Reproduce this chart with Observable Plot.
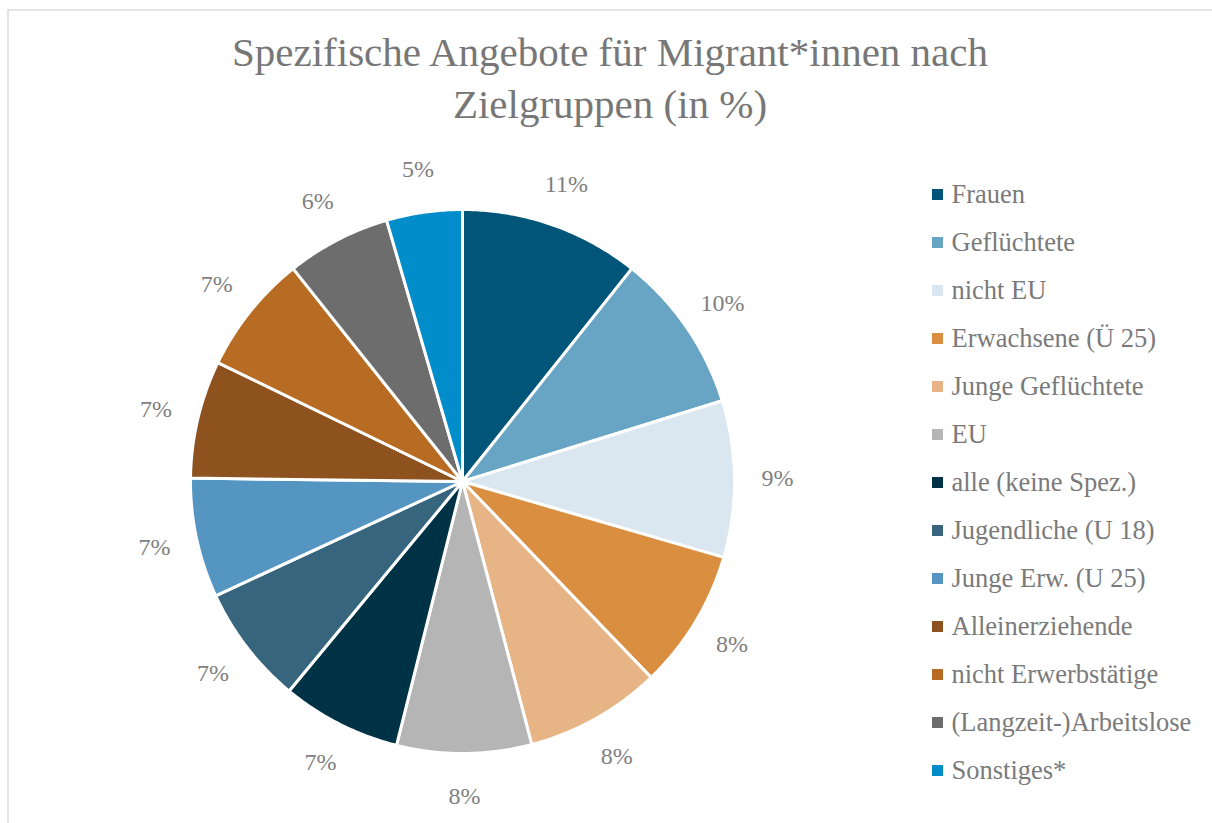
<!DOCTYPE html>
<html><head><meta charset="utf-8">
<script src="https://cdn.jsdelivr.net/npm/d3@7"></script>
<script src="https://cdn.jsdelivr.net/npm/@observablehq/plot@0.6"></script>
<style>
body{margin:0;background:#fff;font-family:"Liberation Serif",serif;}
#wrap{position:relative;width:1212px;height:823px;overflow:hidden;background:#fff}
#frame{position:absolute;left:7px;top:9px;width:1240px;height:840px;border:2px solid #e4e4e4;box-sizing:border-box}
#title{position:absolute;left:0;top:26px;width:1220px;text-align:center;font-size:41px;line-height:52px;color:#777777}
#pie{position:absolute;left:120.5px;top:140px}
#legend{position:absolute;left:920px;top:160px}
#legend svg, #pie svg{max-width:none}
</style></head><body>
<div id="wrap"><div id="frame"></div>
<div id="title">Spezifische Angebote für Migrant*innen nach<br>Zielgruppen (in %)</div>
<div id="pie"></div><div id="legend"></div></div>
<script>
const categories = ["Frauen","Geflüchtete","nicht EU","Erwachsene (Ü 25)","Junge Geflüchtete","EU","alle (keine Spez.)","Jugendliche (U 18)","Junge Erw. (U 25)","Alleinerziehende","nicht Erwerbstätige","(Langzeit-)Arbeitslose","Sonstiges*"];
const values = [10.7, 9.5, 9.3, 8.3, 8.1, 8.0, 7.1, 7.1, 7.1, 7.0, 7.1, 6.2, 4.5];
const labels = ["11%","10%","9%","8%","8%","8%","7%","7%","7%","7%","7%","6%","5%"];
const colors = ["#005578","#68a4c3","#dae7f0","#d98e40","#e7b585","#b5b5b5","#003246","#36657d","#5595c2","#8d521e","#b86c23","#6d6d6d","#008dc9"];

const data = categories.map((name, i) => ({name, value: values[i], label: labels[i]}));
const arcs = d3.pie().sort(null).value(d => d.value)(data);
const features = arcs.map(a => {
  const steps = Math.max(2, Math.ceil((a.endAngle - a.startAngle) / (Math.PI / 360)));
  const ring = [[0, 0]];
  for (let i = 0; i <= steps; i++) {
    const t = a.startAngle + (a.endAngle - a.startAngle) * i / steps;
    ring.push([Math.sin(t), -Math.cos(t)]);
  }
  ring.push([0, 0]);
  return {type: "Feature", properties: {name: a.data.name}, geometry: {type: "Polygon", coordinates: [ring]}};
});
const collection = {type: "FeatureCollection", features};
const labelPts = arcs.map(a => {
  const m = (a.startAngle + a.endAngle) / 2;
  return {x: 1.158 * Math.sin(m), y: -1.158 * Math.cos(m), label: a.data.label};
});

const pie = Plot.plot({
  width: 682, height: 682, margin: 0,
  style: {fontFamily: "Liberation Serif", background: "transparent", overflow: "visible"},
  projection: {type: "identity", domain: collection, inset: 69},
  color: {domain: categories, range: colors},
  marks: [
    Plot.geo(features, {fill: d => d.properties.name, stroke: "white", strokeWidth: 3, strokeLinejoin: "round"}),
    Plot.text(labelPts, {x: "x", y: "y", text: "label", fontSize: 24, fill: "#7f7f7f"})
  ]
});
document.getElementById("pie").appendChild(pie);

const legend = Plot.plot({
  width: 285, height: 660, margin: 0,
  style: {fontFamily: "Liberation Serif", background: "transparent", overflow: "visible"},
  x: {domain: [0, 1], range: [17, 285], axis: null},
  y: {type: "point", domain: categories, range: [33, 611], padding: 0, axis: null},
  color: {domain: categories, range: colors},
  marks: [
    Plot.dot(categories, {x: () => 0, y: d => d, symbol: "square", r: 6.2, fill: d => d, stroke: null}),
    Plot.text(categories, {x: () => 0, y: d => d, text: d => d, dx: 14, textAnchor: "start", fontSize: 26.5, fill: "#7a7a7a"})
  ]
});
document.getElementById("legend").appendChild(legend);
</script>
</body></html>
